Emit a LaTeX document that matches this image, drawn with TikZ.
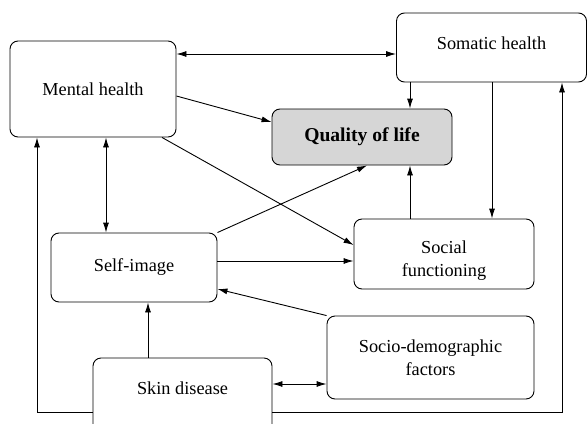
\documentclass[tikz,border=0pt]{standalone}
\usepackage{fontspec}
\setmainfont{Liberation Serif}
\usetikzlibrary{arrows.meta}
\tikzset{
  box/.style={draw, line width=0.9pt, rounded corners=8pt, inner sep=0pt, align=center,
    font=\fontsize{18.3}{23}\selectfont},
  conn/.style={line width=0.9pt, -{Latex[length=10pt,width=6pt]}},
  conn2/.style={line width=0.9pt, {Latex[length=10pt,width=6pt]}-{Latex[length=10pt,width=6pt]}},
  txt/.style={font=\fontsize{18.3}{23}\selectfont, align=center}
}
\begin{document}
\begin{tikzpicture}[x=1pt,y=-1pt]
\useasboundingbox (0,0) rectangle (588,423);
\clip (0,0) rectangle (588,423);
\fill[white] (0,0) rectangle (588,423);
\node[box, minimum width=166pt, minimum height=96pt] (mh) at (93,89) {Mental health};
\node[box, minimum width=190pt, minimum height=69pt,
  label={[txt, yshift=4pt]center:Somatic health}] (sh) at (491.5,47.5) {};
\node[box, fill=black!16, minimum width=180pt, minimum height=56pt,
  font=\fontsize{19.6}{23}\selectfont\bfseries] (qol) at (362,137) {Quality of life};
\node[box, minimum width=166pt, minimum height=69pt] (si) at (134,267.5) {Self-image};
\node[box, minimum width=180pt, minimum height=70pt,
  label={[txt, yshift=-7pt]center:Social\\functioning}] (sf) at (444,254) {};
\node[box, minimum width=207pt, minimum height=83pt] (sd) at (430.5,357.5) {Socio-demographic\\factors};
\node[box, minimum width=179pt, minimum height=74pt,
  label={[txt, yshift=7pt]center:Skin disease}] (skin) at (182.5,395) {};

\draw[conn2] (mh.east |- 0,54) -- (sh.west |- 0,54);
\draw[conn] (mh.east |- 0,96) -- (qol.west |- 0,122);
\draw[conn2] (mh.south -| 106,0) -- (si.north -| 106,0);
\draw[conn] (mh.south -| 162,0) -- (sf.west |- 0,245);
\draw[conn] (skin.west |- 0,412) -- (37,412) -- (mh.south -| 37,0);
\draw[conn] (skin.east |- 0,412) -- (562,412) -- (sh.south -| 562,0);
\draw[conn] (sh.south -| 410,0) -- (qol.north -| 410,0);
\draw[conn] (sh.south -| 492,0) -- (sf.north -| 492,0);
\draw[conn] (sf.north -| 410,0) -- (qol.south -| 410,0);
\draw[conn] (si.north east) -- (qol.south -| 367,0);
\draw[conn] (si.east |- 0,261) -- (sf.west |- 0,261);
\draw[conn] (sd.north west) -- (si.east |- 0,289);
\draw[conn] (skin.north -| 148,0) -- (si.south -| 148,0);
\draw[conn2] (skin.east |- 0,384) -- (sd.west |- 0,384);
\end{tikzpicture}
\end{document}
